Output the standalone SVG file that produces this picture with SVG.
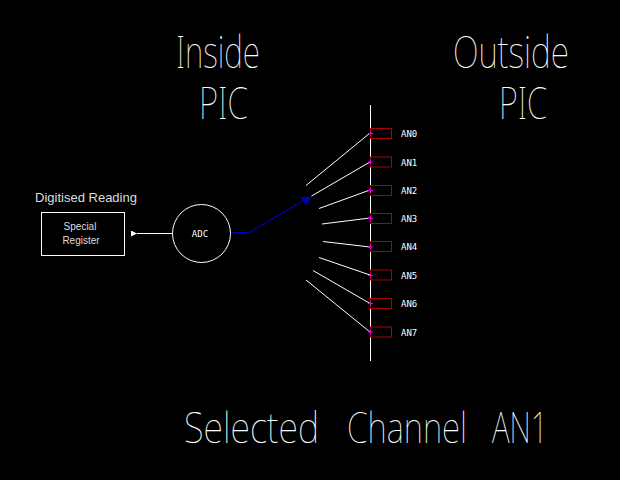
<svg xmlns="http://www.w3.org/2000/svg" width="620" height="480" viewBox="0 0 620 480">
<style>
.big{font-family:"Noto Sans","DejaVu Sans",sans-serif;font-weight:100;fill:#fff;}
.pin{fill:none;stroke:#b00000;stroke-width:1;}
.pl{font-family:"DejaVu Sans Mono",monospace;font-size:9px;fill:#fff;}
.wire{stroke:#fff;stroke-width:1;fill:none;}
.plus{stroke:#e000e0;stroke-width:1;}
.ar{font-family:"Liberation Sans",Arial,sans-serif;fill:#ddd;}
</style>
<defs>
<marker id="wh" viewBox="0 0 6 6" refX="0" refY="3" markerWidth="6" markerHeight="6" orient="auto" markerUnits="userSpaceOnUse">
<path d="M6,0 L0,3 L6,6 z" fill="#fff"/>
</marker>
</defs>
<rect width="620" height="480" fill="#000"/>
<g id="titles">
<text class="big" x="176" y="68" font-size="45" textLength="84" lengthAdjust="spacingAndGlyphs">Inside</text>
<text class="big" x="199" y="119" font-size="45" textLength="49" lengthAdjust="spacingAndGlyphs">PIC</text>
<text class="big" x="453" y="68" font-size="45" textLength="116" lengthAdjust="spacingAndGlyphs">Outside</text>
<text class="big" x="499" y="119" font-size="45" textLength="48" lengthAdjust="spacingAndGlyphs">PIC</text>
<text class="big" x="184" y="443" font-size="42" textLength="135" lengthAdjust="spacingAndGlyphs">Selected</text>
<text class="big" x="347" y="443" font-size="42" textLength="120" lengthAdjust="spacingAndGlyphs">Channel</text>
<text class="big" x="492" y="443" font-size="42" textLength="56" lengthAdjust="spacingAndGlyphs">AN1</text>
</g>
<g id="special-register">
<text class="ar" x="86" y="202" font-size="13" text-anchor="middle">Digitised Reading</text>
<rect x="41.5" y="212.5" width="83" height="43" fill="none" stroke="#fff" stroke-width="1"/>
<text class="ar" x="80" y="230" font-size="10" text-anchor="middle">Special</text>
<text class="ar" x="81" y="244" font-size="10" text-anchor="middle">Register</text>
</g>
<g id="adc">
<circle cx="201.5" cy="233.5" r="29" fill="none" stroke="#fff" stroke-width="1"/>
<text class="pl" x="200" y="237" text-anchor="middle">ADC</text>
</g>
<g id="pic-edge">
<line x1="370.5" y1="105" x2="370.5" y2="361" stroke="#fff" stroke-width="1"/>
</g>
<g id="pins">
<g id="an0"><rect class="pin" x="370.5" y="128.5" width="21" height="10"/><text class="pl" x="401" y="137">AN0</text></g>
<g id="an1"><rect class="pin" x="370.5" y="157" width="21" height="10"/><text class="pl" x="401" y="165.5">AN1</text></g>
<g id="an2"><rect class="pin" x="370.5" y="185.5" width="21" height="10"/><text class="pl" x="401" y="194">AN2</text></g>
<g id="an3"><rect class="pin" x="370.5" y="213.5" width="21" height="10"/><text class="pl" x="401" y="222">AN3</text></g>
<g id="an4"><rect class="pin" x="370.5" y="241.5" width="21" height="10"/><text class="pl" x="401" y="250">AN4</text></g>
<g id="an5"><rect class="pin" x="370.5" y="270" width="21" height="10"/><text class="pl" x="401" y="278.5">AN5</text></g>
<g id="an6"><rect class="pin" x="370.5" y="298.5" width="21" height="10"/><text class="pl" x="401" y="307">AN6</text></g>
<g id="an7"><rect class="pin" x="370.5" y="327" width="21" height="10"/><text class="pl" x="401" y="335.5">AN7</text></g>
</g>
<g id="connectors">
<line class="wire" x1="370" y1="133" x2="306" y2="185.5"/>
<line class="wire" x1="370" y1="162" x2="311.5" y2="196"/>
<line class="wire" x1="370" y1="190" x2="319" y2="208.5"/>
<line class="wire" x1="370" y1="218" x2="322" y2="224"/>
<line class="wire" x1="370" y1="247" x2="323" y2="241.5"/>
<line class="wire" x1="370" y1="275" x2="319" y2="257.5"/>
<line class="wire" x1="370" y1="303.5" x2="313" y2="270.5"/>
<line class="wire" x1="370" y1="332" x2="306" y2="280"/>
<g class="plus">
<path d="M368,133.5h5M370.5,131v5"/>
<path d="M368,162h5M370.5,159.5v5"/>
<path d="M368,190.5h5M370.5,188v5"/>
<path d="M368,218.5h5M370.5,216v5"/>
<path d="M368,247h5M370.5,244.5v5"/>
<path d="M368,275.5h5M370.5,273v5"/>
<path d="M368,303.5h5M370.5,301v5"/>
<path d="M368,332h5M370.5,329.5v5"/>
</g>
<line x1="172.5" y1="233.5" x2="137" y2="233.5" stroke="#fff" stroke-width="1" marker-end="url(#wh)"/>
<path d="M231,232.5 H249.5 L304,200" fill="none" stroke="#0000b0" stroke-width="1.2"/>
<path d="M300,197 L312,197 L306,205 z" fill="#0000b0"/>
</g>
</svg>
